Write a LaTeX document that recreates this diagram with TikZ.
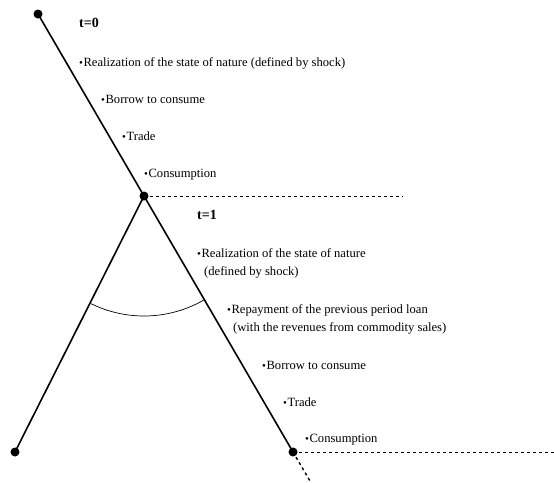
\documentclass[tikz,border=0pt]{standalone}
\usepackage{fontspec}
\setmainfont{Liberation Serif}
\begin{document}
\begin{tikzpicture}[x=1pt,y=-1pt,
  dot/.style={circle,fill=black,inner sep=0pt,minimum size=9pt},
  lbl/.style={anchor=base west,inner sep=0pt,font=\fontsize{12.6}{14}\selectfont,align=left},
  tlbl/.style={anchor=base west,inner sep=0pt,font=\fontsize{14}{16}\selectfont\bfseries},
  mainline/.style={line width=1.6pt},
  dashline/.style={dashed,line width=0.7pt}]
\useasboundingbox (0,0) rectangle (554,482);
\node[dot] (A) at (38,14) {};
\node[dot] (B) at (144,196) {};
\node[dot] (C) at (15,452) {};
\node[dot] (D) at (293,452) {};
\coordinate (Bend) at (403,196);
\coordinate (Dend) at (554,452);
\coordinate (Dtail) at (310,481);
\draw[mainline] (A.center) -- (B.center);
\draw[mainline] (B.center) -- (C.center);
\draw[mainline] (B.center) -- (D.center);
\draw[dashline] (B.center) -- (Bend);
\draw[dashline] (D.center) -- (Dend);
\draw[dashed,line width=1.4pt] (D.center) -- (Dtail);
\draw[line width=0.7pt] (B.center) ++(116.5:120) arc[start angle=116.5,end angle=59.8,radius=120];
\newcommand{\bul}{{\fontsize{11}{11}\selectfont\textbullet}\hspace{0.5pt}}
\node[lbl] (t0) at (79,27) {\fontsize{14}{16}\selectfont\bfseries t=0};
\node[lbl] (a1) at (79,66) {\bul Realization of the state of nature (defined by shock)};
\node[lbl] (a2) at (101,103) {\bul Borrow to consume};
\node[lbl] (a3) at (122,140) {\bul Trade};
\node[lbl] (a4) at (144,177) {\bul Consumption};
\node[tlbl] (t1) at (197,219) {t=1};
\node[lbl] (b1) at (197,257) {\bul Realization of the state of nature};
\node[lbl] (b1b) at (204,275) {(defined by shock)};
\node[lbl] (b2) at (227,313) {\bul Repayment of the previous period loan};
\node[lbl] (b2b) at (233,331) {(with the revenues from commodity sales)};
\node[lbl] (b3) at (262,369) {\bul Borrow to consume};
\node[lbl] (b4) at (283,406) {\bul Trade};
\node[lbl] (b5) at (305,442) {\bul Consumption};
\end{tikzpicture}
\end{document}
